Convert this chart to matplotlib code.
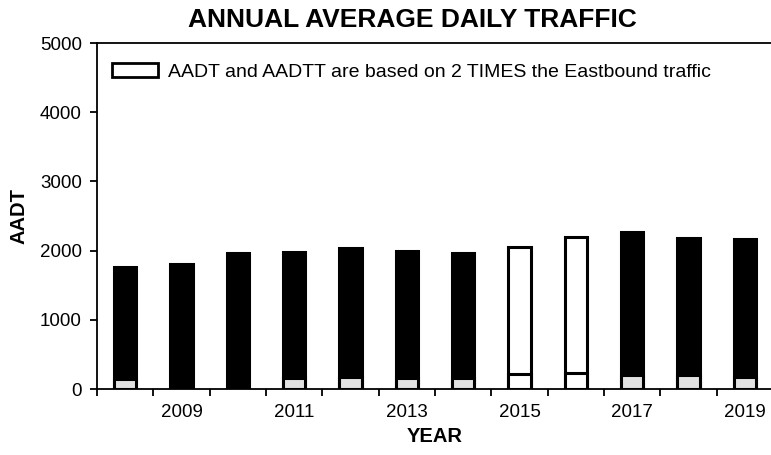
import matplotlib
matplotlib.use("Agg")
import matplotlib.pyplot as plt
import numpy as np
from matplotlib.patches import Patch

plt.rcParams["font.family"] = ["Liberation Sans", "DejaVu Sans"]

years = [2008, 2009, 2010, 2011, 2012, 2013, 2014, 2015, 2016, 2017, 2018, 2019]
aadt = [1770, 1810, 1970, 1980, 2040, 1990, 1970, 2050, 2190, 2270, 2180, 2170]
aadtt = [140, 0, 0, 160, 180, 160, 160, 210, 230, 200, 200, 180]
doubled_eastbound = [2015, 2016]
year_labels = [2009, 2011, 2013, 2015, 2017, 2019]
legend_text = "AADT and AADTT are based on 2 TIMES the Eastbound traffic"

fig = plt.figure(figsize=(7.71, 4.55), dpi=100)
ax = fig.add_axes([97 / 771, 66 / 455, 676 / 771, 346 / 455])

width = 0.4
lw = 2.2
for yr, total, truck in zip(years, aadt, aadtt):
    open_bar = yr in doubled_eastbound
    ax.bar(yr, total, width=width, color="white" if open_bar else "black",
           edgecolor="black", linewidth=lw, zorder=2)
    if truck > 0:
        ax.bar(yr, truck, width=width, color="white" if open_bar else "#e2e2e2",
               edgecolor="black", linewidth=lw, zorder=3)

ax.set_xlim(2007.5, 2019.5)
ax.set_ylim(0, 5000)
ax.set_yticks(np.arange(0, 5001, 1000))
ax.set_xticks(year_labels)
ax.set_xticklabels([str(y) for y in year_labels])
ax.set_xticks(np.arange(2007.5, 2019.6, 1.0), minor=True)
ax.tick_params(axis="x", which="major", length=0, pad=11, labelsize=13.5)
ax.tick_params(axis="x", which="minor", length=5, width=1.3, direction="out")
ax.tick_params(axis="y", length=5, width=1.3, direction="out", labelsize=13.5, pad=6)
for sp in ax.spines.values():
    sp.set_linewidth(1.3)

ax.set_ylabel("AADT", fontsize=14.5, fontweight="bold", labelpad=8)
fig.text(435 / 771, 1 - 437 / 455, "YEAR", ha="center", va="center",
         fontsize=14.5, fontweight="bold")
fig.text(412 / 771, 1 - 20 / 455, "ANNUAL AVERAGE DAILY TRAFFIC", ha="center",
         va="center", fontsize=19, fontweight="bold")

handle = Patch(facecolor="white", edgecolor="black", linewidth=2)
ax.legend([handle], [legend_text], loc="center left",
          bbox_to_anchor=((112 - 97) / 676, (389 - 72) / 346),
          frameon=False, fontsize=14, handlelength=2.37, handleheight=0.72,
          handletextpad=0.5, borderpad=0, borderaxespad=0)

fig.savefig("out.png", dpi=100)
